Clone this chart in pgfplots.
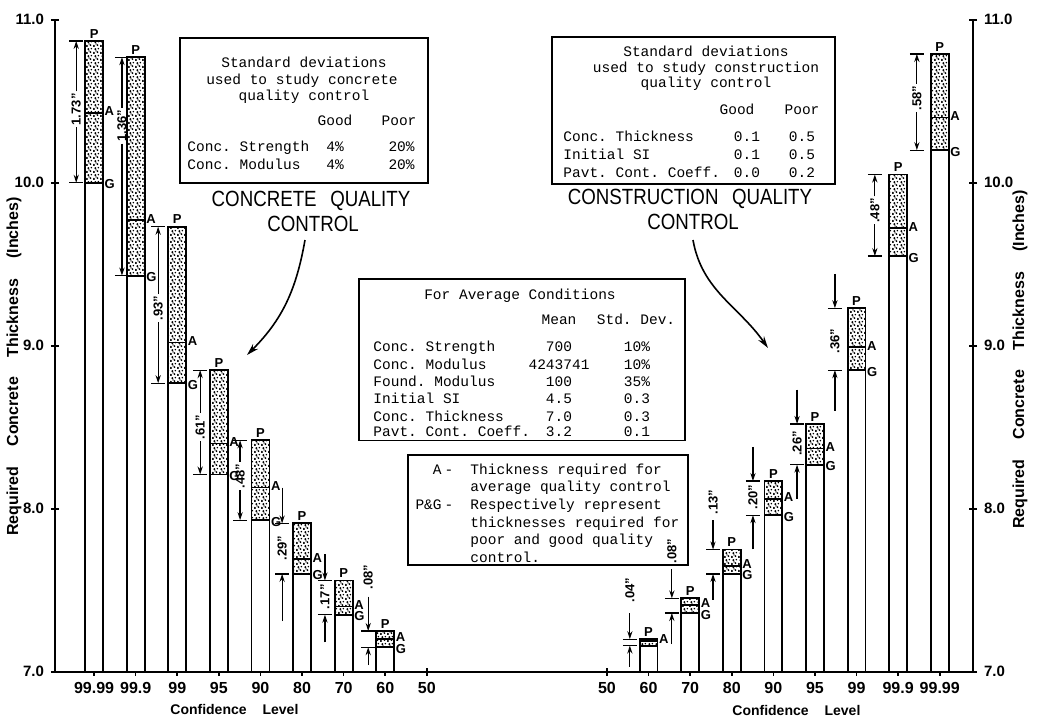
\documentclass[border=0pt]{standalone}
\usepackage{pgfplots}
\pgfplotsset{compat=1.18}
\usepackage{pgfplotstable}
\usepackage{fontspec}
\setmainfont{Liberation Serif}
\setsansfont{Liberation Sans}
\setmonofont{Liberation Mono}
\usepackage{graphicx}
\usetikzlibrary{patterns,arrows.meta}

\pgfdeclarepatternformonly{stipple}{\pgfpointorigin}{\pgfpoint{3.6pt}{3.6pt}}{\pgfpoint{3.6pt}{3.6pt}}{%
  \pgfpathcircle{\pgfpoint{0.5pt}{0.6pt}}{0.7pt}%
  \pgfpathcircle{\pgfpoint{2.5pt}{1.1pt}}{0.55pt}%
  \pgfpathcircle{\pgfpoint{1.3pt}{2.7pt}}{0.6pt}%
  \pgfpathcircle{\pgfpoint{3.0pt}{3.0pt}}{0.45pt}%
  \pgfpathcircle{\pgfpoint{1.7pt}{1.7pt}}{0.35pt}%
  \pgfusepath{fill}}

% x = position on the axis, P = poor, A = average, G = good quality control
\pgfplotstableread{
x P A G
1 10.87 10.43 10.00
2 10.77 9.77 9.43
3 9.73 9.02 8.77
4 8.85 8.40 8.21
5 8.42 8.13 7.93
6 7.91 7.69 7.60
7 7.56 7.40 7.35
8 7.25 7.20 7.15
}\concrete

\pgfplotstableread{
x P A G
14.33 7.20 7.19 7.16
15.33 7.45 7.41 7.36
16.33 7.75 7.65 7.60
17.33 8.17 8.06 7.96
18.33 8.52 8.37 8.27
19.33 9.23 8.99 8.85
20.33 10.05 9.72 9.55
21.33 10.79 10.40 10.20
}\construction

\newcommand{\labfont}{\sffamily\bfseries\fontsize{6.5}{7}\selectfont}
\newcommand{\monofont}{\ttfamily\fontsize{7.25}{8.75}\selectfont}
\tikzset{
  dimline/.style={line width=0.6pt,-{Stealth[length=4pt,width=2.6pt]}},
  dimlab/.style={font=\labfont,rotate=90,inner sep=0.5pt},
  mono/.style={font=\monofont,inner sep=0pt},
  ttl/.style={font=\sffamily\fontsize{11}{12}\selectfont,inner sep=0pt},
}
% inside dimension: x, top, label y, bottom, text, half gap
\newcommand{\dimin}[6]{%
  \draw[dimline] ([yshift=#6]axis cs:#1,#3) -- (axis cs:#1,#2);
  \draw[dimline] ([yshift=-#6]axis cs:#1,#3) -- (axis cs:#1,#4);
  \draw[line width=0.6pt] ([xshift=-3.5pt]axis cs:#1,#2) -- ([xshift=3.5pt]axis cs:#1,#2);
  \draw[line width=0.6pt] ([xshift=-3.5pt]axis cs:#1,#4) -- ([xshift=3.5pt]axis cs:#1,#4);
  \node[dimlab] at (axis cs:#1,#3) {#5};}
% outside dimension: x, start above, top, bottom, start below, label y, text
\newcommand{\dimout}[7]{%
  \draw[dimline] (axis cs:#1,#2) -- (axis cs:#1,#3);
  \draw[dimline] (axis cs:#1,#5) -- (axis cs:#1,#4);
  \draw[line width=0.6pt] ([xshift=-3.5pt]axis cs:#1,#3) -- ([xshift=3.5pt]axis cs:#1,#3);
  \draw[line width=0.6pt] ([xshift=-3.5pt]axis cs:#1,#4) -- ([xshift=3.5pt]axis cs:#1,#4);
  \node[dimlab] at (axis cs:#1,#6) {#7};}

\begin{document}
\begin{tikzpicture}
\begin{axis}[
  at={(0,0)}, anchor=south west, scale only axis,
  width=459pt, height=326pt,
  xmin=0.06, xmax=22.13, ymin=7, ymax=11,
  axis x line*=bottom, axis y line*=left,
  axis line style={line width=1pt},
  xtick={1,2,3,4,5,6,7,8,9,13.33,14.33,15.33,16.33,17.33,18.33,19.33,20.33,21.33},
  xticklabels={99.99,99.9,99,95,90,80,70,60,50,50,60,70,80,90,95,99,99.9,99.99},
  ytick={7,8,9,10,11}, yticklabels={7.0,8.0,9.0,10.0,11.0},
  xticklabel style={font=\sffamily\bfseries\fontsize{8}{9}\selectfont},
  yticklabel style={font=\sffamily\bfseries\fontsize{7.5}{8}\selectfont},
  tick align=center, major tick length=4pt,
  tick style={line width=0.8pt,black},
  clip mode=individual,
  bar width=0.43,
]
% concrete quality control
\addplot[ybar,bar shift=0pt,draw=black,line width=0.9pt,pattern=stipple,pattern color=black] table[x=x,y=P]{\concrete};
\addplot[ybar,bar shift=0pt,draw=black,line width=0.9pt,fill=white] table[x=x,y=G]{\concrete};
\addplot[ybar,bar shift=0pt,draw=black,line width=0.9pt,fill=none] table[x=x,y=A]{\concrete};
% construction quality control
\addplot[ybar,bar shift=0pt,draw=black,line width=0.9pt,pattern=stipple,pattern color=black] table[x=x,y=P]{\construction};
\addplot[ybar,bar shift=0pt,draw=black,line width=0.9pt,fill=white] table[x=x,y=G]{\construction};
\addplot[ybar,bar shift=0pt,draw=black,line width=0.9pt,fill=none] table[x=x,y=A]{\construction};
% letters P, A, G
\addplot[draw=none,nodes near coords={P},every node near coord/.append style={anchor=south,font=\labfont,inner sep=1.2pt}] table[x=x,y=P]{\concrete};
\addplot[draw=none,nodes near coords={A},every node near coord/.append style={anchor=west,xshift=4.5pt,yshift=0.8pt,font=\labfont,inner sep=0.6pt}] table[x=x,y=A]{\concrete};
\addplot[draw=none,nodes near coords={G},every node near coord/.append style={anchor=west,xshift=4.5pt,yshift=-0.8pt,font=\labfont,inner sep=0.6pt}] table[x=x,y=G]{\concrete};
\addplot[draw=none,nodes near coords={P},every node near coord/.append style={anchor=south,font=\labfont,inner sep=1.2pt}] table[x=x,y=P]{\construction};
\addplot[draw=none,nodes near coords={A},every node near coord/.append style={anchor=west,xshift=4.5pt,yshift=0.8pt,font=\labfont,inner sep=0.6pt}] table[x=x,y=A]{\construction};
\addplot[draw=none,skip coords between index={0}{1},nodes near coords={G},every node near coord/.append style={anchor=west,xshift=4.5pt,yshift=-0.8pt,font=\labfont,inner sep=0.6pt}] table[x=x,y=G]{\construction};
% dimension marks, concrete side
\dimin{0.57}{10.87}{10.45}{10.00}{1.73"}{9pt}
\dimin{1.67}{10.77}{10.35}{9.43}{1.36"}{9pt}
\dimin{2.54}{9.73}{9.23}{8.77}{.93"}{7pt}
\dimin{3.55}{8.85}{8.50}{8.21}{.61"}{7pt}
\dimin{4.51}{8.42}{8.20}{7.93}{.48"}{7pt}
\dimout{5.52}{8.13}{7.91}{7.60}{7.31}{7.76}{.29"}
\dimout{6.55}{7.72}{7.56}{7.35}{7.18}{7.46}{.17"}
\dimout{7.59}{7.46}{7.25}{7.15}{7.04}{7.58}{.08"}
% dimension marks, construction side
\dimout{13.88}{7.36}{7.20}{7.16}{7.03}{7.50}{.04"}
\dimout{14.89}{7.63}{7.45}{7.36}{7.17}{7.74}{.08"}
\dimout{15.88}{7.93}{7.75}{7.60}{7.44}{8.04}{.13"}
\dimout{16.84}{8.38}{8.17}{7.96}{7.75}{8.07}{.20"}
\dimout{17.90}{8.73}{8.52}{8.27}{8.06}{8.40}{.26"}
\dimout{18.81}{9.44}{9.23}{8.85}{8.60}{9.03}{.36"}
\dimin{19.77}{10.05}{9.83}{9.55}{.48"}{7pt}
\dimin{20.78}{10.79}{10.52}{10.20}{.58"}{7pt}
\end{axis}
% right-hand axis
\begin{axis}[
  at={(0,0)}, anchor=south west, scale only axis,
  width=459pt, height=326pt,
  xmin=0.06, xmax=22.13, ymin=7, ymax=11,
  axis x line=none, axis y line*=right,
  axis line style={line width=1pt},
  ytick={7,8,9,10,11}, yticklabels={7.0,8.0,9.0,10.0,11.0},
  yticklabel style={font=\sffamily\bfseries\fontsize{7.5}{8}\selectfont},
  tick align=center, major tick length=4pt,
  tick style={line width=0.8pt,black},
]
\addplot[draw=none] coordinates {(1,8)};
\end{axis}
% axis titles
\node[rotate=90,anchor=east,font=\sffamily\bfseries\fontsize{8}{9}\selectfont,inner sep=0pt] at (-20.5pt,237.35pt) {Required\hspace{10pt}Concrete\hspace{10pt}Thickness\hspace{10pt}(Inches)};
\node[rotate=90,anchor=east,font=\sffamily\bfseries\fontsize{8}{9}\selectfont,inner sep=0pt] at (482.5pt,240.85pt) {Required\hspace{10pt}Concrete\hspace{10pt}Thickness\hspace{10pt}(Inches)};
\node[anchor=west,font=\sffamily\bfseries\fontsize{7}{8}\selectfont,inner sep=0pt] at (57.5pt,-18.65pt) {Confidence\hspace{8pt}Level};
\node[anchor=west,font=\sffamily\bfseries\fontsize{7}{8}\selectfont,inner sep=0pt] at (338.5pt,-19.15pt) {Confidence\hspace{8pt}Level};
% box 1
\draw[line width=0.9pt] (62.5pt,244.35pt) rectangle (186.5pt,316.85pt);
\node[mono,anchor=mid] at (124.5pt,304.3pt) {Standard deviations};
\node[mono,anchor=mid] at (123.5pt,296pt) {used to study concrete};
\node[mono,anchor=mid] at (124.5pt,288pt) {quality control};
\node[mono,anchor=mid] at (140pt,275.35pt) {Good};
\node[mono,anchor=mid] at (172pt,275.35pt) {Poor};
\node[mono,anchor=mid west] at (66pt,262.35pt) {Conc. Strength};
\node[mono,anchor=mid] at (140pt,262.35pt) {4\%};
\node[mono,anchor=mid east] at (180pt,262.35pt) {20\%};
\node[mono,anchor=mid west] at (66pt,253.35pt) {Conc. Modulus};
\node[mono,anchor=mid] at (140pt,253.35pt) {4\%};
\node[mono,anchor=mid east] at (180pt,253.35pt) {20\%};
\node[ttl] at (128pt,235.3pt) {\scalebox{0.85}[1]{CONCRETE\hspace{8pt}QUALITY}};
\node[ttl] at (129pt,224pt) {\scalebox{0.85}[1]{CONTROL}};
% box 2
\draw[line width=0.9pt] (248.5pt,243.85pt) rectangle (390pt,317.35pt);
\node[mono,anchor=mid] at (325.5pt,309.85pt) {Standard deviations};
\node[mono,anchor=mid] at (325.5pt,301.85pt) {used to study construction};
\node[mono,anchor=mid] at (325.5pt,294.35pt) {quality control};
\node[mono,anchor=mid] at (341pt,280.85pt) {Good};
\node[mono,anchor=mid] at (373.5pt,280.85pt) {Poor};
\node[mono,anchor=mid west] at (254pt,267.35pt) {Conc. Thickness};
\node[mono,anchor=mid] at (346pt,267.35pt) {0.1};
\node[mono,anchor=mid] at (373.5pt,267.35pt) {0.5};
\node[mono,anchor=mid west] at (254pt,258.35pt) {Initial SI};
\node[mono,anchor=mid] at (346pt,258.35pt) {0.1};
\node[mono,anchor=mid] at (373.5pt,258.35pt) {0.5};
\node[mono,anchor=mid west] at (254pt,249.35pt) {Pavt. Cont. Coeff.};
\node[mono,anchor=mid] at (346pt,249.35pt) {0.0};
\node[mono,anchor=mid] at (373.5pt,249.35pt) {0.2};
\node[ttl] at (317.5pt,236.3pt) {\scalebox{0.85}[1]{CONSTRUCTION\hspace{8pt}QUALITY}};
\node[ttl] at (319pt,225pt) {\scalebox{0.85}[1]{CONTROL}};
% box 3
\draw[line width=0.9pt] (152pt,115.6pt) rectangle (315pt,196.35pt);
\node[mono,anchor=mid] at (232.5pt,188.35pt) {For Average Conditions};
\node[mono,anchor=mid] at (252pt,175.85pt) {Mean};
\node[mono,anchor=mid] at (290.5pt,175.85pt) {Std. Dev.};
\node[mono,anchor=mid west] at (159pt,162.35pt) {Conc. Strength};
\node[mono,anchor=mid] at (252pt,162.35pt) {700};
\node[mono,anchor=mid] at (291pt,162.35pt) {10\%};
\node[mono,anchor=mid west] at (159pt,153.55pt) {Conc. Modulus};
\node[mono,anchor=mid] at (252pt,153.55pt) {4243741};
\node[mono,anchor=mid] at (291pt,153.55pt) {10\%};
\node[mono,anchor=mid west] at (159pt,144.85pt) {Found. Modulus};
\node[mono,anchor=mid] at (252pt,144.85pt) {100};
\node[mono,anchor=mid] at (291pt,144.85pt) {35\%};
\node[mono,anchor=mid west] at (159pt,136.35pt) {Initial SI};
\node[mono,anchor=mid] at (252pt,136.35pt) {4.5};
\node[mono,anchor=mid] at (291pt,136.35pt) {0.3};
\node[mono,anchor=mid west] at (159pt,127.6pt) {Conc. Thickness};
\node[mono,anchor=mid] at (252pt,127.6pt) {7.0};
\node[mono,anchor=mid] at (291pt,127.6pt) {0.3};
\node[mono,anchor=mid west] at (159pt,119.8pt) {Pavt. Cont. Coeff.};
\node[mono,anchor=mid] at (252pt,119.8pt) {3.2};
\node[mono,anchor=mid] at (291pt,119.8pt) {0.1};
% box 4
\draw[line width=0.9pt] (176.5pt,53.35pt) rectangle (316.5pt,108.35pt);
\node[mono,anchor=mid east] at (193.5pt,100.85pt) {A};
\node[mono,anchor=mid] at (197pt,100.85pt) {-};
\node[mono,anchor=mid west] at (207.5pt,100.85pt) {Thickness required for};
\node[mono,anchor=mid west] at (207.5pt,92.35pt) {average quality control};
\node[mono,anchor=mid east] at (193.5pt,83.35pt) {P\&G};
\node[mono,anchor=mid] at (197pt,83.35pt) {-};
\node[mono,anchor=mid west] at (207.5pt,83.35pt) {Respectively represent};
\node[mono,anchor=mid west] at (207.5pt,74.35pt) {thicknesses required for};
\node[mono,anchor=mid west] at (207.5pt,65.85pt) {poor and good quality};
\node[mono,anchor=mid west] at (207.5pt,56.85pt) {control.};
% curved arrows
\draw[line width=0.8pt,-{Stealth[length=6pt,width=3.5pt]}] (125pt,215.85pt) to[out=-100,in=45] (96pt,158.35pt);
\draw[line width=0.8pt,-{Stealth[length=6pt,width=3.5pt]}] (319pt,215.85pt) to[out=-80,in=125] (356.5pt,161.85pt);
\pgfresetboundingbox
\path (-27.5pt,-24.15pt) rectangle (491.5pt,335.85pt);
\end{tikzpicture}
\end{document}
